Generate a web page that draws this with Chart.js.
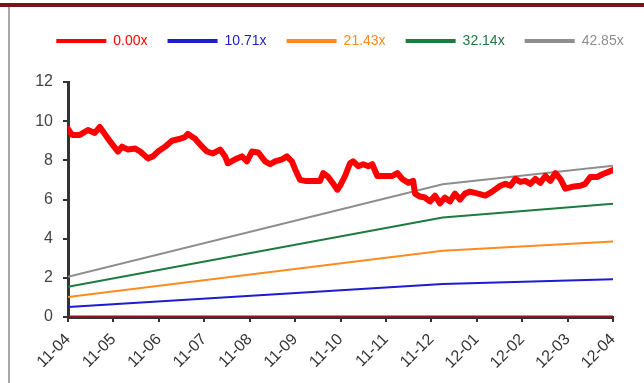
<!DOCTYPE html>
<html>
<head>
<meta charset="utf-8">
<script src="https://cdn.jsdelivr.net/npm/chart.js@4/dist/chart.umd.min.js"></script>
<style>
  html, body { margin: 0; padding: 0; background: #fff; }
  #wrap { position: relative; width: 644px; height: 383px; overflow: hidden; }
  #topbar { position: absolute; left: 0; top: 3px; width: 644px; height: 4px; background: #7b1416; }
  #leftbar { position: absolute; left: 8px; top: 7px; width: 2px; height: 376px; background: #a8a8a8; }
  canvas { position: absolute; left: 0; top: 0; }
</style>
</head>
<body>
<div id="wrap">
  <canvas id="pb-band" width="644" height="383"></canvas>
  <div id="topbar"></div>
  <div id="leftbar"></div>
</div>
<script>
// month ticks (x = months since 11-04)
var monthLabels = ['11-04', '11-05', '11-06', '11-07', '11-08', '11-09', '11-10',
    '11-11', '11-12', '12-01', '12-02', '12-03', '12-04'];

// share price
var priceX = [0.00, 0.09, 0.26, 0.44, 0.59, 0.70, 0.81, 0.93, 1.10, 1.19, 1.32, 1.48, 1.59,
    1.76, 1.87, 1.98, 2.14, 2.29, 2.47, 2.58, 2.64, 2.80, 2.91, 3.06, 3.19, 3.35, 3.46,
    3.52, 3.68, 3.83, 3.94, 4.05, 4.19, 4.34, 4.45, 4.56, 4.71, 4.82, 4.93, 5.00, 5.11,
    5.22, 5.37, 5.55, 5.62, 5.73, 5.84, 5.93, 5.99, 6.10, 6.21, 6.28, 6.39, 6.50, 6.61,
    6.70, 6.81, 6.98, 7.14, 7.25, 7.36, 7.49, 7.60, 7.64, 7.75, 7.86, 7.97, 8.08, 8.19,
    8.30, 8.41, 8.52, 8.63, 8.74, 8.85, 9.03, 9.19, 9.34, 9.52, 9.63, 9.74, 9.85, 9.96,
    10.07, 10.18, 10.29, 10.40, 10.51, 10.62, 10.73, 10.84, 10.95, 11.10, 11.28, 11.39,
    11.50, 11.65, 11.78, 11.94, 12.00];
var priceY = [9.6, 9.3, 9.3, 9.55, 9.4, 9.7, 9.35, 8.95, 8.45, 8.7, 8.55, 8.6, 8.45,
    8.1, 8.2, 8.45, 8.7, 9.0, 9.1, 9.2, 9.35, 9.1, 8.8, 8.45, 8.35, 8.55, 8.2,
    7.85, 8.05, 8.2, 7.95, 8.45, 8.4, 7.95, 7.8, 7.95, 8.05, 8.2, 7.95, 7.55, 7.0,
    6.95, 6.95, 6.95, 7.35, 7.15, 6.8, 6.5, 6.7, 7.2, 7.85, 7.95, 7.7, 7.8, 7.7,
    7.8, 7.2, 7.2, 7.2, 7.35, 7.05, 6.85, 6.95, 6.3, 6.15, 6.1, 5.9, 6.2, 5.8,
    6.1, 5.9, 6.3, 6.0, 6.3, 6.4, 6.3, 6.2, 6.4, 6.7, 6.8, 6.7, 7.05, 6.9,
    6.95, 6.8, 7.05, 6.85, 7.2, 6.95, 7.35, 7.05, 6.55, 6.65, 6.7, 6.8,
    7.15, 7.15, 7.3, 7.45, 7.5];

// PB band lines
var bandX = [0, 8.25, 12];
var band000 = [0, 0, 0];
var band1071 = [0.51, 1.68, 1.93];
var band2143 = [1.02, 3.38, 3.85];
var band3214 = [1.54, 5.08, 5.78];
var band4285 = [2.05, 6.78, 7.72];

var bandNames = ['0.00x', '10.71x', '21.43x', '32.14x', '42.85x'];
var bandColors = ['#8a1a1c', '#1c1cd2', '#ff8a1e', '#1e7a3e', '#8e8e8e'];
var legendColors = ['#ff0000', '#1c1cd2', '#ff8a1e', '#1e7a3e', '#8e8e8e'];

function pts(xs, ys) {
    return xs.map(function (x, i) { return { x: x, y: ys[i] }; });
}

var bands = [band000, band1071, band2143, band3214, band4285];
var datasets = [{
    label: 'price',
    data: pts(priceX, priceY),
    borderColor: '#ff0000',
    borderWidth: 6,
    borderJoinStyle: 'round',
    borderCapStyle: 'round',
    pointRadius: 0,
    tension: 0,
    order: 0
}];
for (var i = 0; i < bands.length; i++) {
    datasets.push({
        label: bandNames[i],
        data: pts(bandX, bands[i]),
        borderColor: bandColors[i],
        borderWidth: i == 0 ? 3 : 2,
        pointRadius: 0,
        tension: 0,
        order: 1
    });
}

// a bit more room under the legend
var legendGap = {
    id: 'legendGap',
    beforeInit: function (chart) {
        var fit = chart.legend.fit;
        chart.legend.fit = function () {
            fit.bind(chart.legend)();
            this.height += 24;
        };
    }
};

new Chart('pb-band', {
    type: 'line',
    data: { datasets: datasets },
    plugins: [legendGap],
    options: {
        responsive: false,
        animation: false,
        devicePixelRatio: 1,
        layout: { padding: { left: 36, right: 0, top: 14, bottom: 0 } },
        plugins: {
            tooltip: { enabled: false },
            legend: {
                position: 'top',
                labels: {
                    boxWidth: 50,
                    boxHeight: 4,
                    padding: 20,
                    font: { family: 'Liberation Sans, Arial', size: 14 },
                    generateLabels: function () {
                        return bandNames.map(function (n, i) {
                            return {
                                text: n, fillStyle: legendColors[i], strokeStyle: legendColors[i],
                                fontColor: legendColors[i], lineWidth: 0, hidden: false, datasetIndex: i + 1
                            };
                        });
                    }
                }
            }
        },
        scales: {
            x: {
                type: 'linear', min: 0, max: 12,
                afterFit: function (s) { s.height = 66; },
                ticks: {
                    stepSize: 1, autoSkip: false, maxRotation: 45, minRotation: 45,
                    color: '#333', padding: 8,
                    font: { family: 'Liberation Sans, Arial', size: 16 },
                    callback: function (v) { return monthLabels[v]; }
                },
                grid: { drawOnChartArea: false, tickLength: 5, color: '#333', lineWidth: 2 },
                border: { color: '#333', width: 3 }
            },
            y: {
                min: 0, max: 12,
                afterFit: function (s) { s.width = 32; },
                ticks: {
                    stepSize: 2, color: '#444', padding: 10,
                    font: { family: 'Liberation Sans, Arial', size: 16 }
                },
                grid: { drawOnChartArea: false, tickLength: 5, color: '#333', lineWidth: 2 },
                border: { color: '#333', width: 3 }
            },
            y2: {
                position: 'right', display: true,
                afterFit: function (s) { s.width = 31; },
                ticks: { display: false },
                grid: { display: false },
                border: { display: false }
            }
        }
    }
});
</script>
</body>
</html>
